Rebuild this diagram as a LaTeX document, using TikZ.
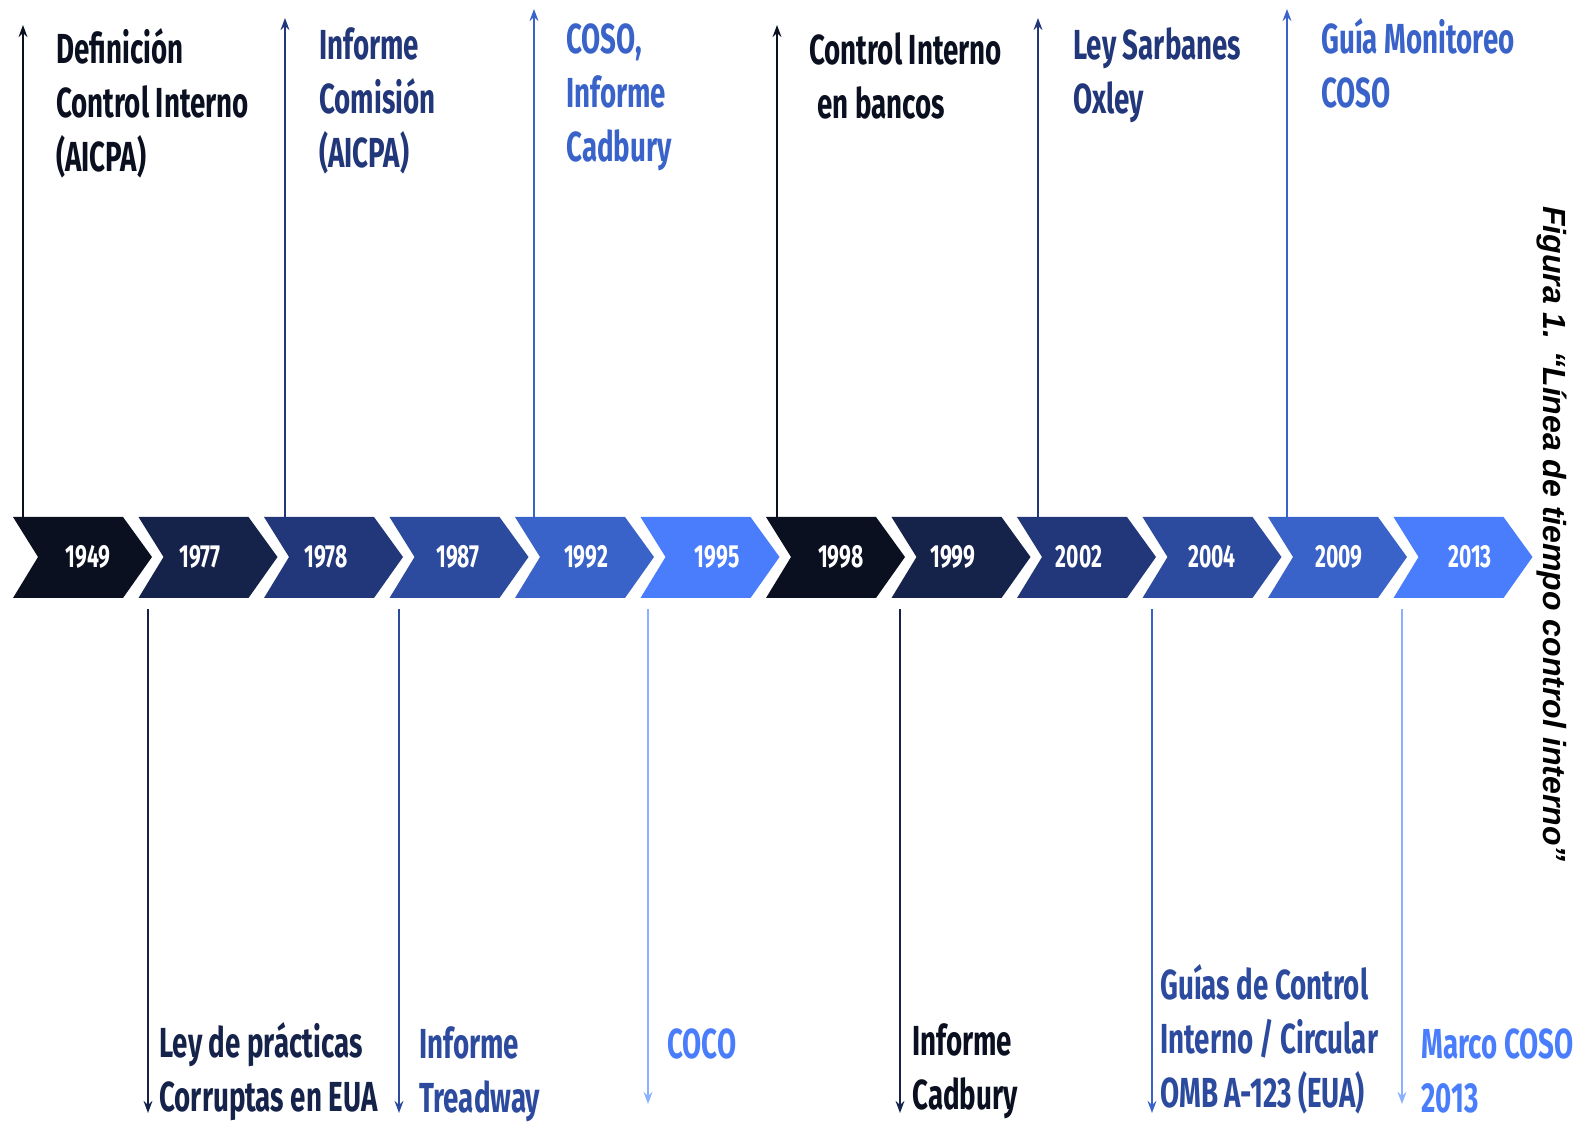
\documentclass[tikz,border=0pt]{standalone}
\usepackage{fontspec}
\setmainfont{Fira Sans}[FakeStretch=0.66]
\newfontfamily\captionfont{Liberation Sans}
\usetikzlibrary{arrows.meta}

\definecolor{tlA}{HTML}{0B1020}
\definecolor{tlB}{HTML}{15224A}
\definecolor{tlC}{HTML}{22377A}
\definecolor{tlD}{HTML}{2C4A9E}
\definecolor{tlE}{HTML}{3A63C9}
\definecolor{tlF}{HTML}{4A7DFB}
\definecolor{tlG}{HTML}{8AB0FF}

\tikzset{
  year/.style={text=white, font=\bfseries\fontsize{16}{16}\selectfont},
  % anchored on the baseline of the last line
  event/.style={anchor=base west, align=left, inner sep=0pt,
    font=\bfseries\fontsize{21}{27}\selectfont},
  pin/.style={line width=1.1pt, -{Stealth[length=6pt,width=4.4pt]}},
}

\begin{document}
\begin{tikzpicture}[x=0.5pt, y=-0.5pt]
  \useasboundingbox (0,0) rectangle (1591,1122);

  % chevrons of the time line
  \foreach \yr/\tx/\col [count=\i from 0] in {1949/88/tlA, 1977/200/tlB,
      1978/326/tlC, 1987/458/tlD, 1992/586/tlE, 1995/717/tlF,
      1998/841/tlA, 1999/953/tlB, 2002/1079/tlC, 2004/1212/tlD,
      2009/1339/tlE, 2013/1470/tlF} {%
    \pgfmathsetmacro{\L}{13+125.5*\i}
    \fill [\col] (\L,517) -- ++(110,0) -- ++(29,40) -- ++(-29,41)
      -- ++(-110,0) -- ++(25,-41) -- cycle;
    \node [year] (y\yr) at (\tx,557) {\yr};
  }

  % events above the line
  \foreach \yr/\ax/\ay/\col in {1949/23/25/tlA, 1978/285/18/tlC,
      1992/534/9/tlE, 1998/777/25/tlA, 2002/1038/18/tlC, 2009/1287/9/tlE} {%
    \coordinate (s\yr) at (\ax,517);
    \coordinate (e\yr) at (\ax,\ay);
    \draw [pin, \col] (s\yr) -- (e\yr);
  }

  % events below the line
  \foreach \yr/\ax/\ay/\col in {1977/148/1113/tlB, 1987/399/1113/tlD,
      1995/648/1104/tlG, 1999/900/1113/tlB, 2004/1152/1113/tlE,
      2013/1402/1104/tlG} {%
    \coordinate (s\yr) at (\ax,609);
    \coordinate (e\yr) at (\ax,\ay);
    \draw [pin, \col] (s\yr) -- (e\yr);
  }

  \node [event, text=tlA] (t1949) at (56,172) {Definición\\Control Interno\\(AICPA)};
  \node [event, text=tlC] (t1978) at (319,168) {Informe\\Comisión\\(AICPA)};
  \node [event, text=tlE] (t1992) at (566,162) {COSO,\\Informe\\Cadbury};
  \node [event, text=tlA] (t1998) at (809,119) {Control Interno\\\hspace*{4pt}en bancos};
  \node [event, text=tlC] (t2002) at (1073,114) {Ley Sarbanes\\Oxley};
  \node [event, text=tlE] (t2009) at (1321,108) {Guía Monitoreo\\COSO};

  \node [event, text=tlB] (t1977) at (159,1111) {Ley de prácticas\\Corruptas en EUA};
  \node [event, text=tlD] (t1987) at (419,1112) {Informe\\Treadway};
  \node [event, text=tlF] (t1995) at (667,1058) {COCO};
  \node [event, text=tlA] (t1999) at (912,1109) {Informe\\Cadbury};
  \node [event, text=tlD] (t2004) at (1160,1107) {Guías de Control\\Interno / Circular\\OMB A-123 (EUA)};
  \node [event, text=tlF] (t2013) at (1421,1112) {Marco COSO\\2013};

  \node [rotate=-90, font=\captionfont\bfseries\itshape\fontsize{16}{16}\selectfont]
    (fig) at (1552,534) {Figura 1. “Línea de tiempo control interno”};
\end{tikzpicture}
\end{document}
